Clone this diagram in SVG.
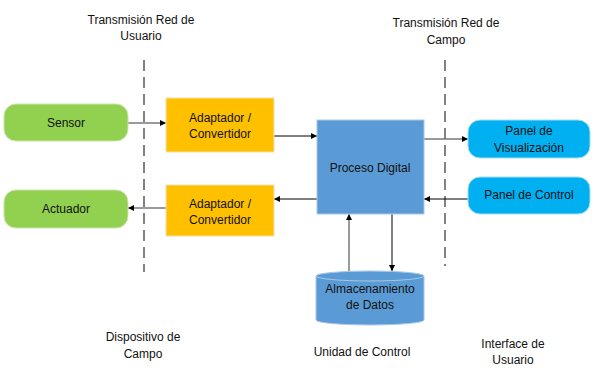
<svg xmlns="http://www.w3.org/2000/svg" width="596" height="380" viewBox="0 0 596 380">
<style>
text{font-family:"Liberation Sans",Arial,sans-serif;font-size:12px;fill:#111;text-anchor:middle}
.g{fill:#92D050;stroke:#c9e4ad;stroke-width:1}
.o{fill:#FFC000;stroke:#f0e0b0;stroke-width:1}
.b{fill:#5B9BD5;stroke:#a9c7e6;stroke-width:1}
.c{fill:#00B0F0;stroke:#a6dcf4;stroke-width:1}
.dash{stroke:#404040;stroke-width:1.3;stroke-dasharray:11,6;fill:none}
.e{stroke:#000;stroke-width:1;fill:none;marker-end:url(#ah)}
.eg{stroke:#777;stroke-width:1.5;fill:none;marker-end:url(#ah)}
</style>
<defs>
<marker id="ah" viewBox="0 0 8 8" refX="8" refY="4" markerWidth="6" markerHeight="6" markerUnits="userSpaceOnUse" orient="auto"><path d="M0,0L8,4L0,8z" fill="#000"/></marker>
</defs>
<rect width="596" height="380" fill="#fff"/>
<g id="labels">
<text x="141" y="24">Transmisión Red de</text>
<text x="141" y="40">Usuario</text>
<text x="446" y="27">Transmisión Red de</text>
<text x="446" y="44">Campo</text>
<text x="143" y="341">Dispositivo de</text>
<text x="143" y="358">Campo</text>
<text x="362" y="356">Unidad de Control</text>
<text x="513" y="348">Interface de</text>
<text x="513" y="364">Usuario</text>
</g>
<g id="dividers">
<line class="dash" x1="144" y1="60" x2="144" y2="272"/>
<line class="dash" x1="445" y1="60" x2="445" y2="266"/>
</g>
<g id="connectors">
<line class="eg" x1="128" y1="123" x2="166" y2="123"/>
<line class="e" x1="274" y1="136" x2="317" y2="136"/>
<line class="eg" x1="424" y1="139" x2="468" y2="139"/>
<line class="e" x1="468" y1="199" x2="424" y2="199"/>
<line class="e" x1="317" y1="199" x2="274" y2="199"/>
<line class="eg" x1="166" y1="208" x2="128" y2="208"/>
<line class="eg" x1="349" y1="271" x2="349" y2="214"/>
<line class="e" x1="392" y1="214" x2="392" y2="271"/>
</g>
<g id="sensor"><rect class="g" x="4" y="104" width="124" height="37" rx="12"/><text x="66" y="127">Sensor</text></g>
<g id="actuador"><rect class="g" x="4" y="190" width="124" height="38" rx="12"/><text x="66" y="213">Actuador</text></g>
<g id="adapt1"><rect class="o" x="166" y="98" width="108" height="54"/><text x="220" y="122">Adaptador /</text><text x="220" y="138">Convertidor</text></g>
<g id="adapt2"><rect class="o" x="166" y="185" width="108" height="51"/><text x="220" y="208">Adaptador /</text><text x="220" y="224">Convertidor</text></g>
<g id="proceso"><rect class="b" x="317" y="120" width="107" height="94"/><text x="370" y="172">Proceso Digital</text></g>
<g id="panelvis"><rect class="c" x="468" y="120" width="122" height="38" rx="12"/><text x="529" y="135">Panel de</text><text x="529" y="152">Visualización</text></g>
<g id="panelctl"><rect class="c" x="468" y="177" width="122" height="37" rx="12"/><text x="529" y="199">Panel de Control</text></g>
<g id="almacen">
<path class="b" d="M316,276 A54,5 0 0 1 424,276 L424,320 A54,5 0 0 1 316,320 Z"/>
<path d="M316,276 A54,5 0 0 0 424,276" fill="none" stroke="#a9c7e6" stroke-width="1"/>
<text x="370" y="293">Almacenamiento</text><text x="370" y="309">de Datos</text>
</g>
</svg>
